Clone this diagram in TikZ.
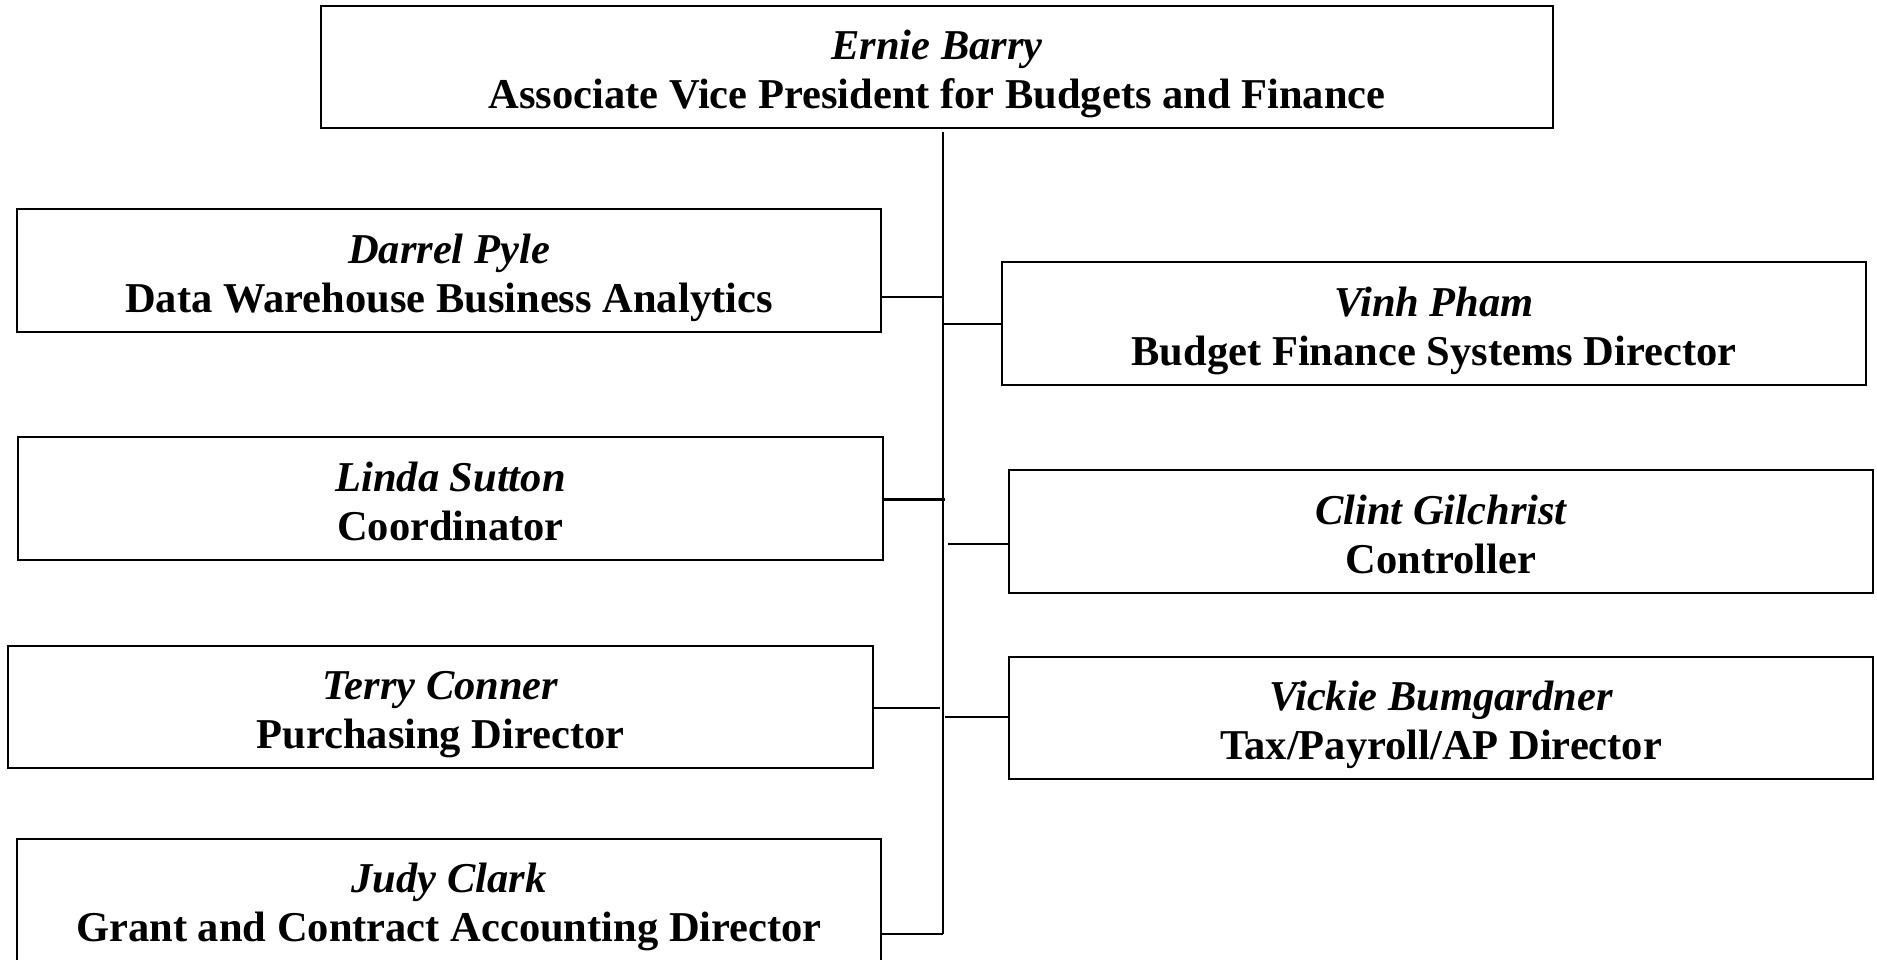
\documentclass[tikz,border=0pt]{standalone}
\usepackage{fontspec}
\setmainfont{Liberation Serif}
\begin{document}
\begin{tikzpicture}[x=1pt,y=-1pt,
  box/.style={draw=black,line width=2pt,rectangle,inner sep=0pt,outer sep=0pt,minimum height=123pt,minimum width=864pt},
  nm/.style={anchor=base,inner sep=0pt,font=\fontsize{42.5}{50}\selectfont\bfseries\itshape},
  rl/.style={anchor=base,inner sep=0pt,font=\fontsize{42.5}{50}\selectfont\bfseries},
  link/.style={draw=black,line width=2pt}]
\useasboundingbox (0,0) rectangle (1877,959);
% boxes
\node[box,minimum width=1232pt,minimum height=122pt] (top) at (937,67) {};
\node[box] (darrel) at (449,270.5) {};
\node[box] (vinh) at (1434,323.5) {};
\node[box,minimum width=865pt] (linda) at (450.5,498.5) {};
\node[box] (clint) at (1441,531.5) {};
\node[box,minimum width=865pt,minimum height=122pt] (terry) at (440.5,707) {};
\node[box,minimum height=122pt] (vickie) at (1441,718) {};
\node[box] (judy) at (449,900.5) {};
% texts
\node[nm] (tE1) at (937,59) {Ernie Barry};
\node[rl] (tE2) at (937,108) {Associate Vice President for Budgets and Finance};
\node[nm] (tD1) at (449,263) {Darrel Pyle};
\node[rl] (tD2) at (449,312) {Data Warehouse Business Analytics};
\node[nm] (tV1) at (1434,316) {Vinh Pham};
\node[rl] (tV2) at (1434,365) {Budget Finance Systems Director};
\node[nm] (tL1) at (450.5,491) {Linda Sutton};
\node[rl] (tL2) at (450.5,540) {Coordinator};
\node[nm] (tC1) at (1441,524) {Clint Gilchrist};
\node[rl] (tC2) at (1441,573) {Controller};
\node[nm] (tT1) at (440.5,699) {Terry Conner};
\node[rl] (tT2) at (440.5,748) {Purchasing Director};
\node[nm] (tK1) at (1441,710) {Vickie Bumgardner};
\node[rl] (tK2) at (1441,759) {Tax/Payroll/AP Director};
\node[nm] (tJ1) at (449,892) {Judy Clark};
\node[rl] (tJ2) at (449,941) {Grant and Contract Accounting Director};
% trunk
\coordinate (trunkTop) at (943,132);
\coordinate (trunkBot) at (943,934);
\draw[link] (trunkTop) -- (trunkBot);
% junctions
\coordinate (jD) at (943,297);
\coordinate (jV) at (943,324);
\coordinate (jL) at (945,499);
\coordinate (jC) at (948,544);
\coordinate (jT) at (940,708);
\coordinate (jK) at (945,717);
\draw[link] (jD -| darrel.east) -- (jD);
\draw[link] (jV) -- (jV -| vinh.west);
\draw[link,line width=3pt] (jL -| linda.east) -- (jL);
\draw[link] (jC) -- (jC -| clint.west);
\draw[link] (jT -| terry.east) -- (jT);
\draw[link] (jK) -- (jK -| vickie.west);
\draw[link] (trunkBot -| judy.east) -- (trunkBot);
\end{tikzpicture}
\end{document}
